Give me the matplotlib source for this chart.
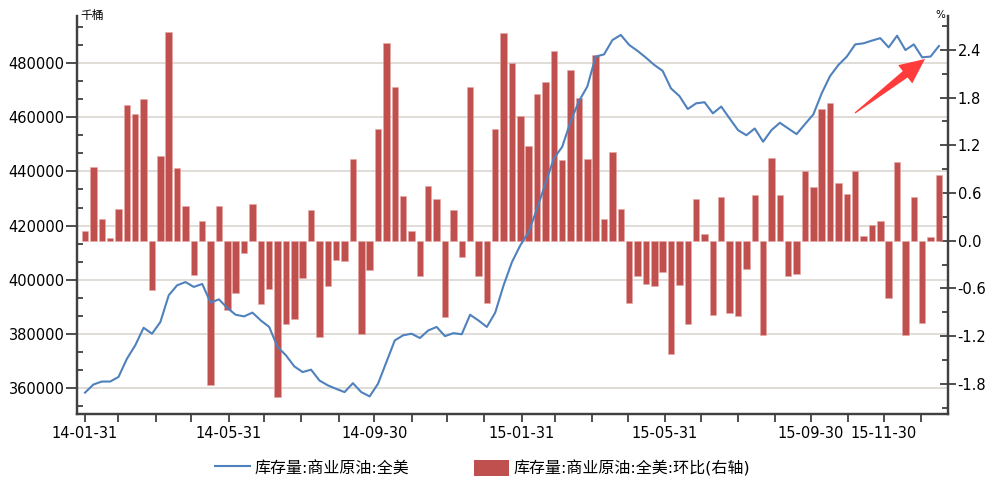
import matplotlib
matplotlib.use('Agg')
import matplotlib.pyplot as plt
import matplotlib.dates as mdates
from matplotlib.ticker import FixedLocator, MultipleLocator, AutoMinorLocator, NullFormatter
from matplotlib.patches import Polygon, Patch
from matplotlib.lines import Line2D
import numpy as np
import pandas as pd

plt.rcParams['font.family'] = ['DejaVu Sans', 'Noto Sans CJK SC']

# weekly data, first week ending 2014-01-31
first_week = '2014-01-31'

# commercial crude stocks, whole US (thousand barrels)
stock = [358200, 361200, 362300, 362300, 364000, 370700, 375700, 382200, 380000, 384300,
         394200, 397900, 399100, 397300, 398400, 391500, 392700, 389500, 387000, 386400,
         387800, 384900, 382500, 375100, 372000, 367900, 365800, 366700, 362700, 360900,
         359600, 358400, 361700, 358400, 356800, 361500, 369500, 377500, 379400, 380000,
         378400, 381200, 382500, 379100, 380200, 379800, 387000, 384900, 382500, 387800,
         397900, 406500, 412700, 417600, 426300, 435600, 444800, 449100, 458400, 466000,
         471400, 482500, 483300, 488600, 490500, 486800, 484600, 482100, 479400, 477200,
         470700, 467900, 463100, 465200, 465600, 461500, 464000, 459600, 455300, 453400,
         455900, 451000, 455300, 458000, 455900, 453800, 457500, 461100, 468900, 475300,
         479400, 482500, 487000, 487400, 488400, 489300, 485900, 490200, 484900, 487000,
         482200, 482500, 486400]

# week-on-week change (%)
change = [0.12, 0.92, 0.27, 0.03, 0.40, 1.71, 1.59, 1.78, -0.62, 1.07,
          2.62, 0.91, 0.43, -0.43, 0.25, -1.81, 0.43, -0.87, -0.66, -0.15,
          0.46, -0.80, -0.61, -1.96, -1.05, -0.99, -0.47, 0.39, -1.21, -0.57,
          -0.24, -0.26, 1.03, -1.18, -0.37, 1.41, 2.48, 1.93, 0.56, 0.12,
          -0.44, 0.69, 0.52, -0.96, 0.39, -0.21, 1.93, -0.44, -0.79, 1.41,
          2.61, 2.24, 1.57, 1.19, 1.85, 1.99, 2.39, 1.02, 2.15, 1.79,
          1.03, 2.34, 0.27, 1.11, 0.40, -0.78, -0.44, -0.54, -0.57, -0.40,
          -1.43, -0.56, -1.05, 0.52, 0.08, -0.93, 0.55, -0.91, -0.95, -0.36,
          0.58, -1.19, 1.04, 0.57, -0.45, -0.42, 0.88, 0.68, 1.65, 1.73,
          0.72, 0.59, 0.88, 0.06, 0.20, 0.25, -0.72, 0.99, -1.19, 0.55,
          -1.04, 0.05, 0.83]

tick_labels = ['2014-01-31', '2014-05-31', '2014-09-30', '2015-01-31',
               '2015-05-31', '2015-09-30', '2015-11-30']

line_label = '库存量:商业原油:全美'
bar_label = '库存量:商业原油:全美:环比(右轴)'

dates = pd.date_range(first_week, periods=len(stock), freq='7D')
x = mdates.date2num(dates)

line_color = '#4F81BD'
bar_color = '#C0504D'
axis_color = '#404040'
grid_color = '#DAD5CF'

W, H = 998, 482
L, R, T, B = 77, 948, 16, 414   # plot box in pixels

fig = plt.figure(figsize=(W / 100, H / 100), dpi=100)
ax = fig.add_axes([L / W, 1 - B / H, (R - L) / W, (B - T) / H])
ax2 = ax.twinx()
ax3 = ax.twinx()

# left axis: grid + labels
ax.set_ylim(350300, 497500)
ax.yaxis.set_major_locator(MultipleLocator(20000))
ax.yaxis.set_minor_locator(AutoMinorLocator(3))
ax.yaxis.grid(True, which='major', color=grid_color, lw=1.2)
ax.set_axisbelow(True)
ax.tick_params(axis='y', which='major', direction='out', length=8, width=1.3,
               color=axis_color, labelsize=10.5, pad=1)
ax.tick_params(axis='y', which='minor', direction='in', length=4, width=1.3,
               color=axis_color)

# bars on the right axis
ax2.bar(x, change, width=5.4, color=bar_color, edgecolor='#E7A9A7', linewidth=0.4,
        zorder=2)
ax2.set_ylim(-2.18, 2.825)
ax2.yaxis.set_major_locator(MultipleLocator(0.6))
ax2.yaxis.set_minor_locator(MultipleLocator(0.3))
ax2.yaxis.set_major_formatter(matplotlib.ticker.FormatStrFormatter('%.1f'))
ax2.tick_params(axis='y', which='major', direction='inout', length=12, width=1.3,
                color=axis_color, labelsize=10.5, pad=1)
ax2.tick_params(axis='y', which='minor', direction='in', length=4, width=1.3,
                color=axis_color)

# line shares the left scale, drawn on top of the bars
ax3.plot(x, stock, color=line_color, lw=1.5, zorder=3)
ax3.set_ylim(ax.get_ylim())
ax3.yaxis.set_visible(False)
for s in ax3.spines.values():
    s.set_visible(False)

for a in (ax, ax2):
    a.spines['top'].set_visible(False)
    for side in ('left', 'right', 'bottom'):
        a.spines[side].set_color(axis_color)
        a.spines[side].set_linewidth(1.6)

ax.set_xlim(x[0] - 6.7, x[0] + 721.6)
month_ends = mdates.date2num(pd.date_range('2014-01-31', '2015-12-31', freq='ME'))
major = mdates.date2num(pd.to_datetime(tick_labels))
ax.xaxis.set_major_locator(FixedLocator(major))
ax.xaxis.set_minor_locator(FixedLocator(month_ends))
ax.xaxis.set_major_formatter(mdates.DateFormatter('%y-%m-%d'))
ax.xaxis.set_minor_formatter(NullFormatter())
ax.tick_params(axis='x', which='both', direction='out', length=6, width=1.3,
               color=axis_color, labelsize=10.5, pad=3)

fig.text(80 / W, 1 - 15 / H, '千桶', fontsize=8.5, va='center', ha='left')
fig.text(940 / W, 1 - 15 / H, '%', fontsize=7.5, va='center', ha='center')

# red arrow: thin tail widening towards a triangular head (pixel layout)
tail = np.array([855.0, 113.0])
tip = np.array([925.0, 59.0])
u = (tip - tail) / np.hypot(*(tip - tail))
n = np.array([-u[1], u[0]])
base = tip - 25 * u
pts = [tail + 0.6 * n, base + 4 * n, base + 11.5 * n, tip,
       base - 11.5 * n, base - 4 * n, tail - 0.6 * n]
pts = [((px - L) / (R - L), (B - py) / (B - T)) for px, py in pts]
ax3.add_patch(Polygon(pts, closed=True, transform=ax.transAxes,
                      facecolor='#FF3B3B', edgecolor='none', zorder=10))

handles = [Line2D([], [], color=line_color, lw=1.5),
           Patch(facecolor=bar_color, edgecolor='none')]
fig.legend(handles, [line_label, bar_label], loc='center left',
           bbox_to_anchor=(215 / W, 1 - 468 / H), ncol=2, frameon=False,
           fontsize=11.5, handlelength=2.2, handleheight=1.25, handletextpad=0.3,
           columnspacing=4.0, borderpad=0, borderaxespad=0)

fig.savefig('out.png', dpi=100)
